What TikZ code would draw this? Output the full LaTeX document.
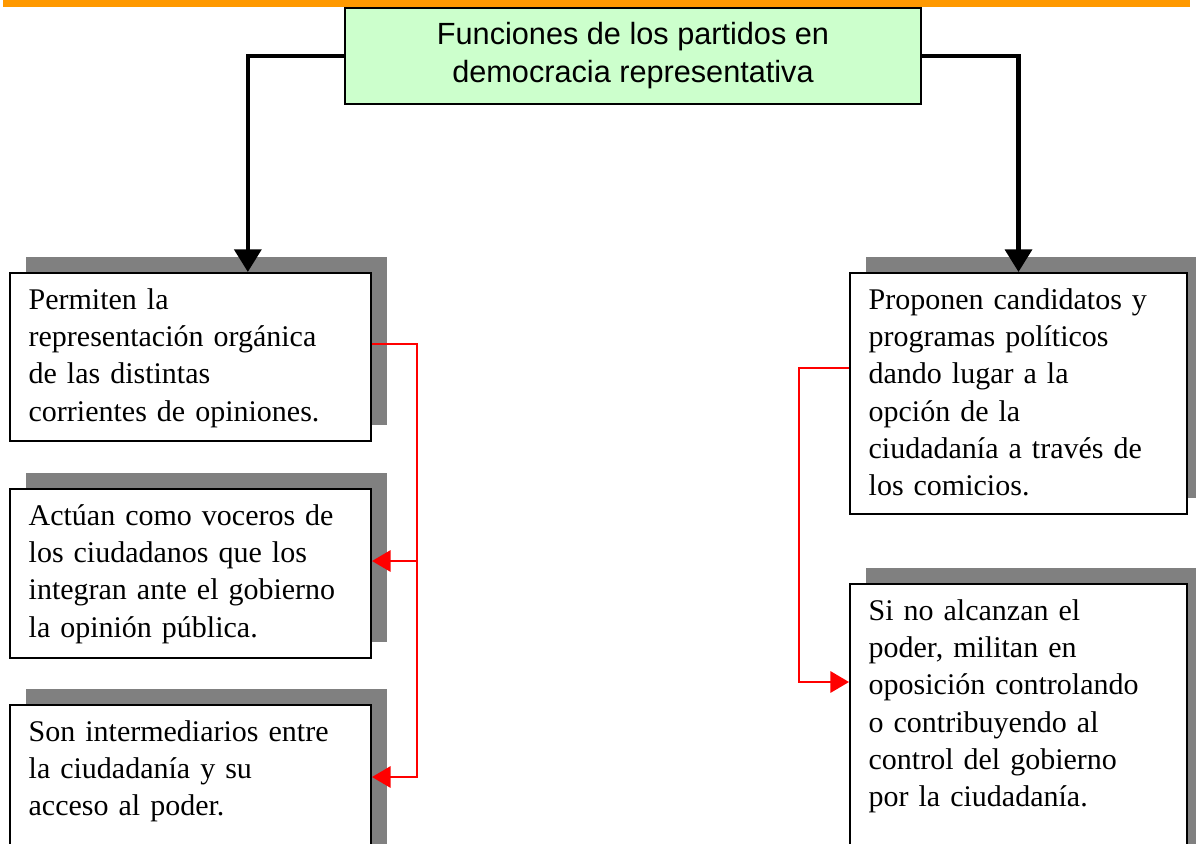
\documentclass[tikz,border=0pt]{standalone}
\usepackage{fontspec}
\setmainfont{Liberation Serif}
\newfontfamily\titlefont{Liberation Sans}
\usetikzlibrary{%
  positioning,%
  shadows,%
  arrows.meta%
}
\definecolor{titlegreen}{HTML}{CCFFCC}
\definecolor{barorange}{HTML}{FF9900}

\begin{document}
\begin{tikzpicture}[
      x=0.75pt, y=-0.75pt,
      titlebox/.style={
        draw,
        line width=1.5pt,
        fill=titlegreen,
        minimum width=432pt,
        minimum height=72pt,
        align=center,
        text=black,
        font=\titlefont\fontsize{23}{28.5}\selectfont
      },
      funcbox/.style={
        draw,
        line width=1.5pt,
        fill=white,
        anchor=north west,
        align=left,
        text width=#1,
        inner xsep=14pt,
        inner ysep=0pt,
        text height=27pt,
        font=\fontsize{22.5}{28}\selectfont,
        drop shadow={shadow xshift=12pt, shadow yshift=12pt,
          fill=black!50, opacity=1}
      },
      node distance=34.5pt,
      mainlink/.style={
        -{Triangle[length=17pt,width=20pt]},
        line width=3.5pt
      },
      sidelink/.style={
        -{Triangle[length=14pt,width=16pt]},
        red,
        line width=1.8pt
      }
    ]
    \useasboundingbox (0,0) rectangle (1196,843);
    \clip (0,0) rectangle (1196,843);
    \fill[barorange] (3,0) rectangle (1190,7);

    \node[titlebox] (title) at (633,56)
      {Funciones de los partidos en\\
      democracia representativa};

    \node[funcbox=242.75pt, text depth=99pt] (repre) at (9,272)
      {Permiten la\\
      representación orgánica\\
      de las distintas\\
      corrientes de opiniones.};

    \node[funcbox=242.75pt, text depth=99.75pt, below=of repre] (voceros)
      {Actúan como voceros de\\
      los ciudadanos que los\\
      integran ante el gobierno\\
      la opinión pública.};

    \node[funcbox=242.75pt, text depth=120pt, below=33.75pt of voceros] (interm)
      {Son intermediarios entre\\
      la ciudadanía y su\\
      acceso al poder.};

    \node[funcbox=224.75pt, text depth=153.75pt] (candid) at (849,272)
      {Proponen candidatos y\\
      programas políticos\\
      dando lugar a la\\
      opción de la\\
      ciudadanía a través de\\
      los comicios.};

    \node[funcbox=224.75pt, text depth=230pt, below=51pt of candid] (oposic)
      {Si no alcanzan el\\
      poder, militan en\\
      oposición controlando\\
      o contribuyendo al\\
      control del gobierno\\
      por la ciudadanía.};

    \draw[mainlink] (title.west) -| ([xshift=43pt]repre.north);
    \draw[mainlink] (title.east) -| (candid.north);

    \draw[sidelink] ([yshift=-54pt]repre.north east) -- ++(33.75pt,0)
      coordinate (lspine) |- ([yshift=-54.75pt]interm.north east);
    \draw[sidelink] (lspine) |- ([yshift=-54.75pt]voceros.north east);
    \draw[sidelink] ([yshift=-72pt]candid.north west) -- ++(-37.5pt,0)
      |- ([yshift=-74.25pt]oposic.north west);
  \end{tikzpicture}
\end{document}
